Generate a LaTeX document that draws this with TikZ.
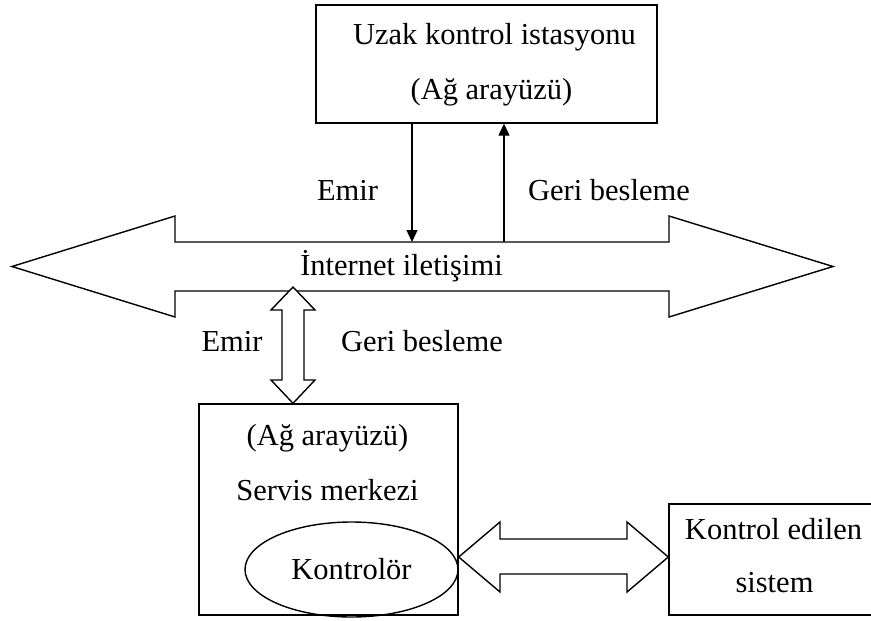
\documentclass[tikz,border=0pt]{standalone}
\usepackage{fontspec}
\setmainfont{Liberation Serif}
\usetikzlibrary{arrows.meta,shapes.geometric}
\begin{document}
\begin{tikzpicture}[x=1pt,y=-1pt,
  box/.style={draw,line width=1.4pt,inner sep=0pt},
  lbl/.style={font=\fontsize{30.5}{36}\selectfont,anchor=base,inner sep=0pt},
  blockarrow/.style={draw,fill=white,line width=1.4pt,line join=miter},
  sig/.style={line width=1.4pt,-{Triangle[length=12pt,width=11pt]}}]
\clip (0,0) rectangle (871,621);

% boxes
\node[box,minimum width=341pt,minimum height=118pt] (station) at (486.5,64) {};
\node[box,minimum width=259pt,minimum height=211pt] (centre) at (328.5,509.5) {};
\node[box,minimum width=220pt,minimum height=111pt] (plant) at (779,559.5) {};
\node[box,ellipse,minimum width=213pt,minimum height=95pt,
      font=\fontsize{30.5}{36}\selectfont] (ctl) at (351.5,569.5) {Kontrolör};

% texts in the boxes
\node[lbl] (st1) at (494.5,45) {Uzak kontrol istasyonu};
\node[lbl] (st2) at (491.5,99) {(Ağ arayüzü)};
\node[lbl] (ce1) at (327.5,445) {(Ağ arayüzü)};
\node[lbl] (ce2) at (327.5,500) {Servis merkezi};
\node[lbl] (pl1) at (773.5,539) {Kontrol edilen};
\node[lbl] (pl2) at (774.5,592) {sistem};

% Internet channel: wide double block arrow
\draw[blockarrow] (12,266.5) -- (175,216) -- (175,242) -- (669,242) -- (669,216)
  -- (833,266.5) -- (669,317) -- (669,291) -- (175,291) -- (175,317) -- cycle;
\node[lbl] (net) at (401.5,275) {İnternet iletişimi};
\coordinate (netTop) at (0,242);

% command / feedback between station and channel
\draw[sig] (412,0 |- station.south) -- (412,0 |- netTop);
\draw[sig] (504,0 |- netTop) -- (504,0 |- station.south);
\node[lbl] at (347.5,200) {Emir};
\node[lbl] at (609,200) {Geri besleme};

% channel <-> service centre
\draw[blockarrow] (293,287) -- (315,310) -- (304,310) -- (304,380) -- (315,380)
  -- (293,0 |- centre.north) -- (271,380) -- (282,380) -- (282,310) -- (271,310) -- cycle;
\node[lbl] at (232,351) {Emir};
\node[lbl] at (422,351) {Geri besleme};

% controller <-> controlled system
\draw[blockarrow] (centre.east |- 0,557) -- (500,522) -- (500,539) -- (627,539) -- (627,522)
  -- (plant.west |- 0,557) -- (627,592) -- (627,574) -- (500,574) -- (500,592) -- cycle;
\end{tikzpicture}
\end{document}
